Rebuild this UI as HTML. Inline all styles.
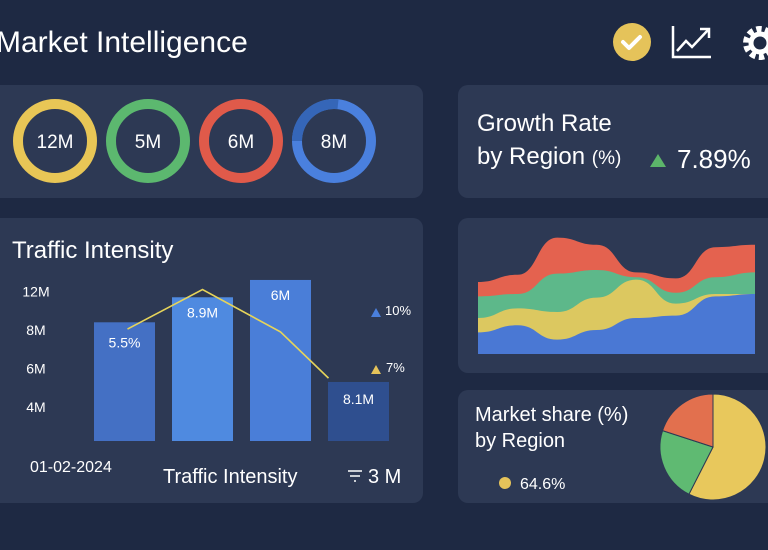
<!DOCTYPE html>
<html><head><meta charset="utf-8"><style>
body{margin:0;width:768px;height:550px;overflow:hidden;background:#1e2943;font-family:"Liberation Sans",sans-serif;color:#fff}
svg{display:block}
</style></head><body>
<svg width="768" height="550" viewBox="0 0 768 550">
<rect x="0" y="0" width="768" height="550" fill="#1e2943"/>
<text x="-4" y="52" font-size="30" fill="#fff">Market Intelligence</text>
<g><circle cx="632" cy="42" r="19" fill="#e5c35a"/><path d="M623 42 l6 6 l11 -11" stroke="#fff" stroke-width="4" fill="none" stroke-linecap="round" stroke-linejoin="round"/></g>
<g fill="none" stroke="#fff" stroke-width="2.5"><path d="M673 26 V57 H711"/><path d="M677 51 l9 -10 l6 6 l16 -17"/><path d="M700 29 h9 v9"/></g>
<g><circle cx="760" cy="43" r="13" fill="none" stroke="#fff" stroke-width="8" stroke-dasharray="5 3.2"/><circle cx="760" cy="43" r="9" fill="none" stroke="#fff" stroke-width="5"/></g>

<rect x="-10" y="85" width="433" height="113" rx="10" fill="#2d3954"/>
<g id="rings"></g>

<rect x="458" y="85" width="320" height="113" rx="10" fill="#2d3954"/>
<text x="477" y="131" font-size="24" fill="#fff">Growth Rate</text>
<text x="477" y="164" font-size="24" fill="#fff">by Region <tspan font-size="19">(%)</tspan></text>
<path d="M650 167 l8 -13 l8 13z" fill="#5cb56a"/>
<text x="677" y="168" font-size="26" fill="#fff">7.89%</text>

<rect x="-10" y="218" width="433" height="285" rx="10" fill="#2d3954"/>
<text x="12" y="258" font-size="24" fill="#fff">Traffic Intensity</text>
<g id="bars"></g>
<text x="30" y="472" font-size="16" fill="#fff">01-02-2024</text>
<text x="163" y="483" font-size="20" fill="#fff">Traffic Intensity</text>
<g stroke="#fff" stroke-width="1.6"><path d="M348 471 h14 M350 476 h10 M354 481 h2"/></g>
<text x="368" y="483" font-size="20" fill="#fff">3 M</text>
<path d="M371 317 l5 -9 l5 9z" fill="#4a7fdc"/>
<text x="385" y="315" font-size="13" fill="#fff">10%</text>
<path d="M371 374 l5 -9 l5 9z" fill="#e5c35a"/>
<text x="386" y="372" font-size="13" fill="#fff">7%</text>

<rect x="458" y="218" width="320" height="155" rx="10" fill="#2d3954"/>
<g id="stream"></g>

<rect x="458" y="390" width="320" height="113" rx="10" fill="#2d3954"/>
<text x="475" y="421" font-size="20" fill="#fff">Market share (%)</text>
<text x="475" y="447" font-size="20" fill="#fff">by Region</text>
<circle cx="505" cy="483" r="6" fill="#e5c35a"/>
<text x="520" y="489" font-size="16" fill="#fff">64.6%</text>
<g id="pie"></g>
</svg>
<script>
const NS="http://www.w3.org/2000/svg";
function mk(tag,attrs,parent){const e=document.createElementNS(NS,tag);for(const k in attrs)e.setAttribute(k,attrs[k]);parent.appendChild(e);return e;}

// KPI rings
const ringLabels=["12M","5M","6M","8M"];
const ringColors=["#e8c656","#5cb86f","#e05a4a","#4a80de"];
const rg=document.getElementById('rings');
ringLabels.forEach((l,i)=>{
  const cx=55+i*93;
  const c=mk('circle',{cx:cx,cy:141,r:37,fill:'none',stroke:ringColors[i],'stroke-width':10},rg);
  
  
  if(i===3){const a=mk('path',{d:'M'+(cx-37)+' 141 A37 37 0 0 1 '+(cx+4)+' 104.2',fill:'none',stroke:'#3566b8','stroke-width':10},rg);
    
    }
  const t=mk('text',{x:cx,y:148,'font-size':19,fill:'#fff','text-anchor':'middle'},rg);t.textContent=l;
  
  
});

// Bar chart
const barCats=["A","B","C","D"];
const barValues=[8.4,9.7,10.6,5.3];
const barLabels=["5.5%","8.9M","6M","8.1M"];
const lineValues=[8.05,10.1,7.9,5.5];
const tickValues=[4,6,8,10];
const tickLabels=["4M","6M","8M","12M"];
const barColors=["#4470c4","#4f8ae0","#4a7ed8","#2f4f8f"];
const yS=v=>407-(v-4)*19.25;
const base=441;
const xS=i=>94+i*78;
const bw=61;
const bg=document.getElementById('bars');
tickValues.forEach((v,i)=>{const t=mk('text',{x:36,y:yS(v)+5,'font-size':14,fill:'#fff','text-anchor':'middle'},bg);t.textContent=tickLabels[i];
  
  });
barValues.forEach((v,i)=>{
  const r=mk('rect',{x:xS(i),y:yS(v),width:bw,height:base-yS(v),fill:barColors[i]},bg);
  
  
  const t=mk('text',{x:xS(i)+bw/2,y:yS(v)+(i===0?25:i===3?22:20),'font-size':14,fill:'#fff','text-anchor':'middle'},bg);t.textContent=barLabels[i];
  
  
});
const pts=lineValues.map((v,i)=>[xS(i)+bw/2+(i===3?-30:i===0?3:0),yS(v)]);
const ln=mk('polyline',{points:pts.map(p=>p.join(',')).join(' '),fill:'none',stroke:'#e6d45a','stroke-width':1.6},bg);



// Stream chart
const streamX=[0,1,2,3,4,5,6,7];
const blueVals=[18,24,12,20,30,32,48,50];
const yellowVals=[12,14,23,27,32,10,2,0];
const greenVals=[18,12,32,23,2,9,14,18];
const redVals=[12,16,30,21,4,12,25,23];
const layers=[blueVals,yellowVals,greenVals,redVals];
const layerColors=["#4a78d4","#e3c85e","#5db88a","#e4624f"];
const layerNames=["stream-blue","stream-yellow","stream-green","stream-red"];
const sx=i=>478+i*(277/7);
const sy=v=>354-v*1.2;
function smooth(p){let d='';for(let i=0;i<p.length-1;i++){const a=p[i],b=p[i+1],m=(a[0]+b[0])/2;d+=' C'+m+' '+a[1]+' '+m+' '+b[1]+' '+b[0]+' '+b[1];}return d;}
const sg=document.getElementById('stream');
let cum=streamX.map(()=>0);
const drawn=[];
layers.forEach((vals,li)=>{
  const top=streamX.map((x,i)=>[sx(i),sy(cum[i]+vals[i])]);
  cum=cum.map((c,i)=>c+vals[i]);
  drawn.push(top);
});
for(let li=3;li>=0;li--){
  const top=drawn[li];
  const d='M'+sx(0)+' 354 L'+top[0][0]+' '+top[0][1]+smooth(top)+' L'+sx(7)+' 354 Z';
  const p=mk('path',{d:d,fill:layerColors[li],opacity:li===1?0.95:1},sg);
  
  
}

// Pie
const pieLabels=["Yellow","Green","Red"];
const pieValues=[57.5,22.5,20];
const pieColors=["#e8c85c","#5fba72","#e2704e"];
const pg=document.getElementById('pie');
const pcx=713,pcy=447,pr=53;
const tot=pieValues.reduce((a,b)=>a+b,0);
let ang=0;
pieValues.forEach((v,i)=>{
  const a0=ang/tot*2*Math.PI,a1=(ang+v)/tot*2*Math.PI;ang+=v;
  const x0=pcx+pr*Math.sin(a0),y0=pcy-pr*Math.cos(a0),x1=pcx+pr*Math.sin(a1),y1=pcy-pr*Math.cos(a1);
  const p=mk('path',{d:`M${pcx} ${pcy} L${x0} ${y0} A${pr} ${pr} 0 ${a1-a0>Math.PI?1:0} 1 ${x1} ${y1} Z`,fill:pieColors[i],stroke:'#2d3954','stroke-width':1},pg);
  
  
});
</script>
</body></html>
